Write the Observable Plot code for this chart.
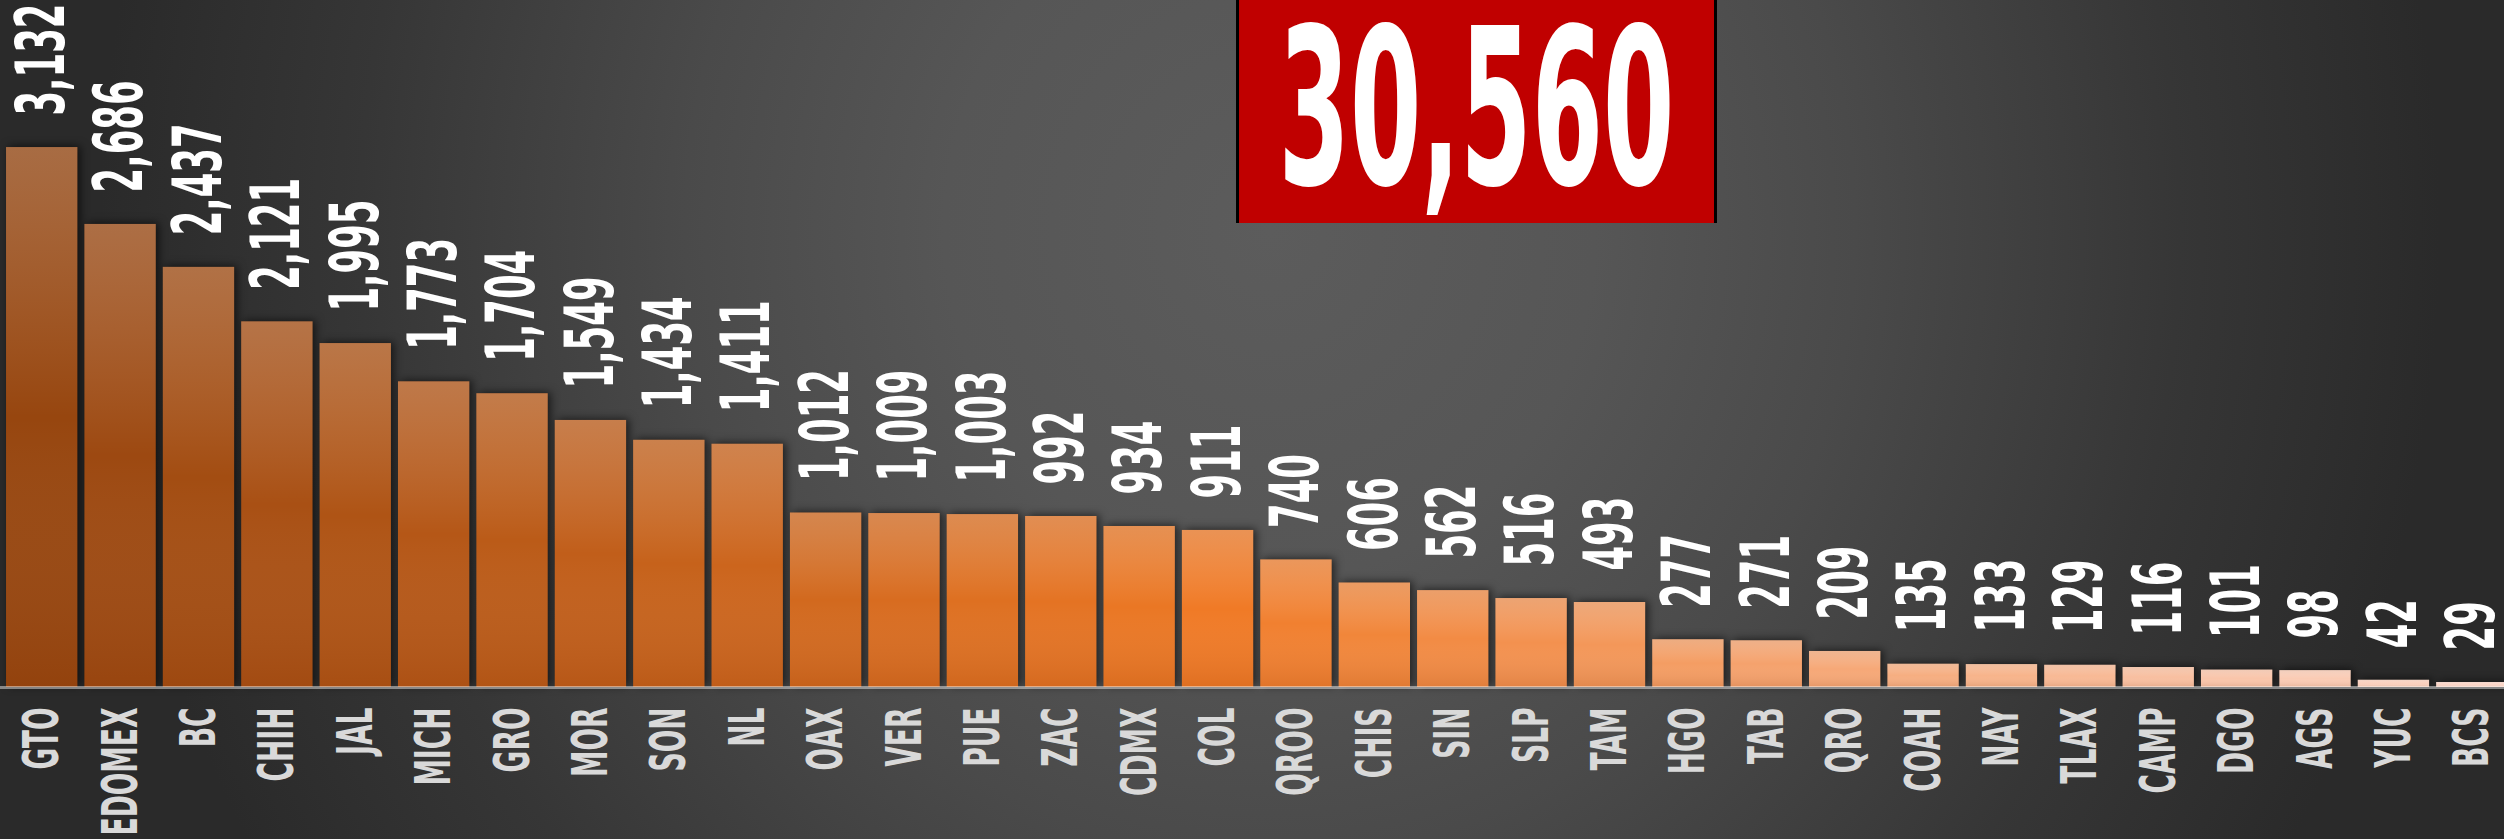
<!DOCTYPE html>
<html>
<head>
<meta charset="utf-8">
<script src="https://cdn.jsdelivr.net/npm/d3@7"></script>
<script src="https://cdn.jsdelivr.net/npm/@observablehq/plot@0.6"></script>
<style>
  html, body { margin: 0; padding: 0; background: #2b2b2b; overflow: hidden; }
  #wrap {
    position: relative; width: 2504px; height: 839px; overflow: hidden;
    background: radial-gradient(ellipse 1300px 1400px at 1270px 230px,
      #5c5c5c 0%, #565656 25%, #4a4a4a 45%, #363636 70%, #2a2a2a 90%);
  }
  #wrap svg { display: block; }
  #total {
    position: absolute; left: 1236px; top: 0; width: 475px; height: 223px;
    background: #c00000; border-left: 3px solid #000; border-right: 3px solid #000;
  }
</style>
</head>
<body>
<div id="wrap"></div>
<script>
// ---- data ----
const states = ["GTO","EDOMEX","BC","CHIH","JAL","MICH","GRO","MOR","SON","NL",
  "OAX","VER","PUE","ZAC","CDMX","COL","QROO","CHIS","SIN","SLP","TAM",
  "HGO","TAB","QRO","COAH","NAY","TLAX","CAMP","DGO","AGS","YUC","BCS"];
const values = [3132,2686,2437,2121,1995,1773,1704,1549,1434,1411,
  1012,1009,1003,992,934,911,740,606,562,516,493,
  277,271,209,135,133,129,116,101,98,42,29];

const FONT = "'Liberation Sans Narrow','Arial Narrow','DejaVu Sans Condensed',sans-serif";
const fmt = d3.format(",");
const data = states.map((s, i) => ({state: s, value: values[i], i}));
const total = d3.sum(values);

const colorAt = d3.scaleLinear()
  .domain([0, 15, states.length - 1])
  .range(["#97460f", "#f07a26", "#fbd6c8"])
  .interpolate(d3.interpolateRgb);

// measure to emulate a condensed display face
const ctx = document.createElement("canvas").getContext("2d");
function k(str, size, target) {
  ctx.font = `bold ${size}px ${FONT}`;
  return target / ctx.measureText(str).width;
}
const kVal = k("2,686", 68, 112);
const kLab = k("EDOMEX", 50, 128);
const kBig = k("30,560", 218, 396);

const defs = () => {
  const d = d3.create("svg:defs");
  const g = d.append("linearGradient").attr("id", "shade")
    .attr("x1", 0).attr("x2", 0).attr("y1", 0).attr("y2", 1);
  g.append("stop").attr("offset", "0%").attr("stop-color", "#d8d8d8").attr("stop-opacity", 0.26);
  g.append("stop").attr("offset", "50%").attr("stop-color", "#ffffff").attr("stop-opacity", 0);
  g.append("stop").attr("offset", "100%").attr("stop-color", "#7a2a00").attr("stop-opacity", 0.14);
  return d.node();
};

const chart = Plot.plot({
  width: 2504,
  height: 839,
  margin: 0,
  style: {background: "transparent", overflow: "visible"},
  x: {domain: states, range: [2.5, 2511], paddingInner: 0.09, paddingOuter: 0.045, round: false, axis: null},
  y: {domain: [0, 3985], range: [687, 0], axis: null},
  color: {type: "identity"},
  marks: [
    defs,
    Plot.barY(data, {x: "state", y: "value", fill: d => colorAt(d.i)}),
    Plot.barY(data, {x: "state", y: "value", fill: "url(#shade)"}),
    Plot.ruleY([0], {stroke: "#ffffff", strokeOpacity: 0.45, strokeWidth: 3}),
    Plot.text(data, {x: "state", y: "value", text: d => fmt(d.value), rotate: -90,
      textAnchor: "start", lineAnchor: "middle", dy: -32, fill: "#ffffff",
      fontSize: 68, fontWeight: "bold", fontFamily: FONT}),
    Plot.text(data, {x: "state", y: 0, text: "state", rotate: -90,
      textAnchor: "end", lineAnchor: "middle", dy: 20, fill: "#d9d9d9",
      fontSize: 50, fontWeight: "bold", fontFamily: FONT})
  ]
});

const svg = d3.select(chart);
svg.select('g[aria-label="bar"]').style("filter", "drop-shadow(3px -1px 4px rgba(0,0,0,0.6))");
const textGroups = svg.selectAll('g[aria-label="text"]').nodes();
function squeeze(g, s) {
  d3.select(g).selectAll("text").each(function() {
    const t = this.getAttribute("transform") || "";
    this.setAttribute("transform", t + ` scale(${s},1)`);
  });
}
squeeze(textGroups[0], kVal);
squeeze(textGroups[1], kLab);

const wrap = document.getElementById("wrap");
wrap.appendChild(chart);

// total badge
const box = d3.select(wrap).append("div").attr("id", "total");
const bsvg = box.append("svg").attr("width", 475).attr("height", 223).style("overflow", "visible");
bsvg.append("text")
  .attr("transform", `translate(237.5,184) scale(${kBig},1)`)
  .attr("text-anchor", "middle")
  .attr("fill", "#fff")
  .style("font-family", FONT).style("font-weight", "bold").style("font-size", "218px")
  .text(fmt(total));
</script>
</body>
</html>
